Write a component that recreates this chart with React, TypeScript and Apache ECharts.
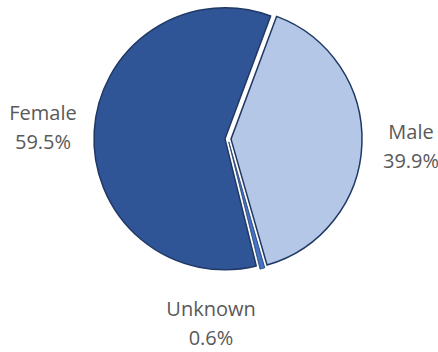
import React, { useEffect, useRef } from "react";
import * as echarts from "echarts";

const categories = ["Male", "Unknown", "Female"];
const values = [39.9, 0.6, 59.5];
const colors = ["#B4C7E7", "#4472C4", "#2F5597"];
const borderWidths = [1.5, 0.8, 1.5];
const labelPos = [
  [411, 146],
  [211, 323],
  [43, 127],
];

export default function App() {
  const ref = useRef<HTMLDivElement>(null);
  useEffect(() => {
    if (!ref.current) return;
    const chart = echarts.init(ref.current, null, { renderer: "svg" });
    const base = {
      type: "pie",
      center: [228, 139],
      radius: [0, 131],
      startAngle: 69.6,
      clockwise: true,
      avoidLabelOverlap: false,
      emphasis: { disabled: true },
    };
    chart.setOption({
      animation: false,
      backgroundColor: "#ffffff",
      series: [
        {
          ...base,
          selectedMode: "multiple",
          selectedOffset: 3,
          data: categories.map((c, i) => ({
            name: c,
            value: values[i],
            selected: true,
            itemStyle: { color: colors[i], borderColor: "#1F3864", borderWidth: borderWidths[i] },
            select: { itemStyle: { color: colors[i], borderColor: "#1F3864", borderWidth: borderWidths[i] } },
          })),
          label: { show: false },
          labelLine: { show: false },
        },
        {
          ...base,
          silent: true,
          data: categories.map((c, i) => ({ name: c, value: values[i] })),
          itemStyle: { color: "rgba(0,0,0,0)", borderWidth: 0 },
          label: {
            show: true,
            position: "outside",
            formatter: (p: any) => `${p.name}\n${p.value.toFixed(1)}%`,
            fontFamily: "Open Sans",
            fontSize: 20,
            lineHeight: 29,
            color: "#595959",
            align: "center",
          },
          labelLine: { show: false },
          labelLayout: (p: any) => ({
            x: labelPos[p.dataIndex][0],
            y: labelPos[p.dataIndex][1],
            align: "center",
            verticalAlign: "middle",
          }),
        },
      ],
    });
    return () => chart.dispose();
  }, []);
  return <div ref={ref} style={{ width: 438, height: 352, position: "absolute", left: 0, top: 0 }} />;
}
